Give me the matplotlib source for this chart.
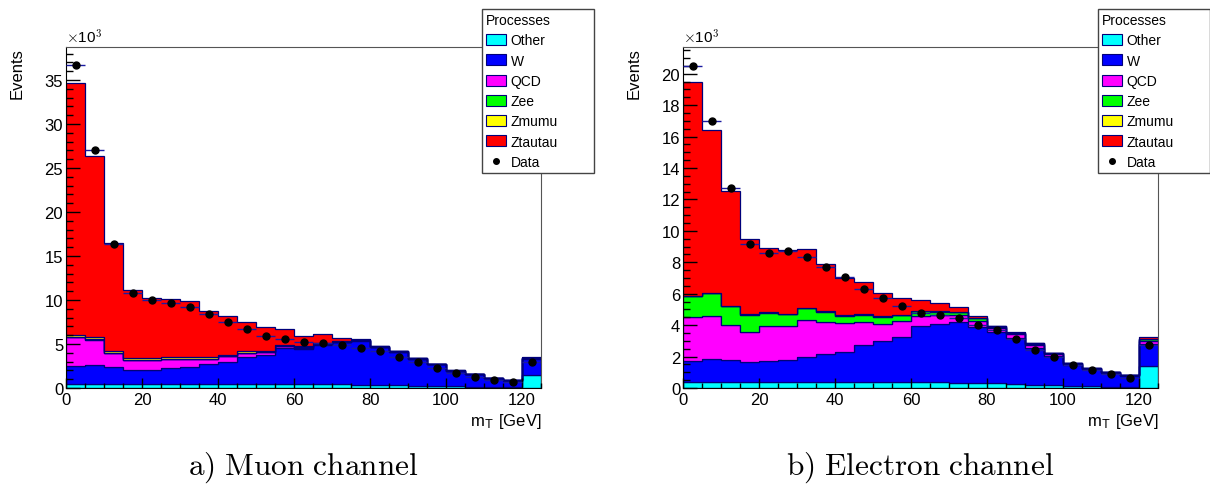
import numpy as np
import matplotlib
matplotlib.use("Agg")
import matplotlib.pyplot as plt
from matplotlib.patches import Patch
from matplotlib.lines import Line2D
from matplotlib.ticker import MultipleLocator

plt.rcParams['font.family'] = ['Liberation Sans', 'DejaVu Sans']
plt.rcParams['mathtext.fontset'] = 'cm'

# bin edges of m_T [GeV], 5 GeV bins
edges = np.arange(0, 130, 5)
centers = edges[:-1] + 2.5

processes = ["Other", "W", "QCD", "Zee", "Zmumu", "Ztautau"]
colors = ["#00ffff", "#0000ff", "#ff00ff", "#00ff00", "#ffff00", "#ff0000"]

# muon channel, events in units of 10^3
mu_other = [0.45, 0.45, 0.45, 0.45, 0.45, 0.45, 0.45, 0.45, 0.45, 0.45, 0.45, 0.45, 0.42,
            0.42, 0.40, 0.38, 0.35, 0.30, 0.25, 0.22, 0.20, 0.15, 0.12, 0.10, 1.50]
mu_w = [2.02, 2.20, 1.95, 1.65, 1.65, 1.78, 1.90, 2.25, 2.50, 3.05, 3.35, 4.10, 3.98,
        4.48, 4.80, 4.97, 4.30, 3.82, 3.08, 2.48, 1.77, 1.42, 0.99, 0.75, 1.80]
mu_qcd = [3.29, 2.85, 1.60, 1.10, 1.08, 1.07, 0.95, 0.60, 0.65, 0.48, 0.30, 0.18, 0.20,
          0.07, 0.05, 0.05, 0.02, 0.02, 0.02, 0.01, 0.01, 0.01, 0.01, 0.01, 0.10]
mu_zee = [0.03, 0.03, 0.03, 0.03, 0.03, 0.03, 0.03, 0.03, 0.03, 0.03, 0.03, 0.03, 0.03,
          0.03, 0.02, 0.02, 0.01, 0.01, 0.01, 0.01, 0.0, 0.0, 0.0, 0.0, 0.01]
mu_zmumu = [0.22, 0.22, 0.20, 0.15, 0.15, 0.15, 0.15, 0.15, 0.15, 0.15, 0.12, 0.12, 0.12,
            0.10, 0.08, 0.06, 0.04, 0.03, 0.02, 0.02, 0.01, 0.01, 0.01, 0.01, 0.03]
mu_ztautau = [28.6, 20.65, 12.27, 7.72, 6.84, 6.62, 6.37, 5.27, 4.37, 3.34, 2.68, 1.79, 1.20,
              1.00, 0.35, 0.09, 0.03, 0.02, 0.01, 0.01, 0.01, 0.01, 0.01, 0.0, 0.06]
mu_data = [36.7, 27.0, 16.4, 10.8, 10.0, 9.7, 9.2, 8.4, 7.45, 6.7, 5.95, 5.57, 5.27,
           5.1, 4.93, 4.58, 4.17, 3.56, 2.95, 2.27, 1.67, 1.2, 0.9, 0.68, 3.0]

# electron channel, events in units of 10^3
el_other = [0.40, 0.40, 0.40, 0.38, 0.38, 0.38, 0.38, 0.38, 0.38, 0.38, 0.38, 0.38, 0.38,
            0.36, 0.34, 0.32, 0.30, 0.25, 0.20, 0.17, 0.14, 0.11, 0.08, 0.06, 1.42]
el_w = [1.30, 1.47, 1.36, 1.28, 1.34, 1.38, 1.57, 1.77, 1.89, 2.36, 2.62, 2.89, 3.55,
        3.72, 3.88, 3.55, 3.29, 2.93, 2.35, 1.86, 1.31, 1.07, 0.87, 0.71, 1.38]
el_qcd = [2.80, 2.73, 2.27, 1.93, 2.21, 2.21, 2.40, 2.03, 1.87, 1.44, 1.05, 0.98, 0.67,
          0.59, 0.45, 0.42, 0.23, 0.26, 0.21, 0.12, 0.08, 0.06, 0.05, 0.04, 0.21]
el_zee = [1.34, 1.43, 1.17, 1.08, 0.87, 0.72, 0.72, 0.68, 0.46, 0.49, 0.49, 0.38, 0.28,
          0.19, 0.15, 0.15, 0.08, 0.06, 0.06, 0.05, 0.04, 0.02, 0.01, 0.01, 0.09]
el_zmumu = [0.02] * 25
el_ztautau = [13.64, 10.35, 7.33, 4.81, 4.12, 4.09, 3.76, 3.0, 2.41, 2.04, 1.49, 1.10, 0.70,
              0.53, 0.30, 0.11, 0.05, 0.03, 0.01, 0.01, 0.0, 0.0, 0.0, 0.0, 0.15]
el_data = [20.5, 17.0, 12.7, 9.17, 8.6, 8.73, 8.32, 7.7, 7.05, 6.3, 5.71, 5.2, 4.8,
           4.67, 4.48, 4.01, 3.69, 3.12, 2.44, 1.97, 1.46, 1.15, 0.91, 0.64, 2.76]

W, H = 1210, 485
fig = plt.figure(figsize=(W / 100, H / 100), dpi=100)

edge_col = "#00007a"


def draw_panel(ax_left, stack, data, ymax, ymaj, ymin, caption, leg_x):
    ax = fig.add_axes([ax_left / W, 96 / H, 475 / W, 341 / H])
    bottom = np.zeros(len(edges) - 1)
    for vals, c in zip(stack, colors):
        top = bottom + np.array(vals)
        ax.stairs(top, edges, baseline=bottom, fill=True, color=c, lw=0)
        ax.stairs(top, edges, baseline=bottom, fill=False, color=edge_col, lw=0.9)
        bottom = top
    data = np.array(data)
    ax.errorbar(centers, data, xerr=2.5, yerr=np.sqrt(data * 1000) / 1000,
                fmt="o", color="black", ms=5, ecolor="#1a1aa0", elinewidth=1,
                capsize=0, zorder=5)
    ax.set_xlim(0, 125)
    ax.set_ylim(0, ymax)
    ax.xaxis.set_major_locator(MultipleLocator(20))
    ax.xaxis.set_minor_locator(MultipleLocator(5))
    ax.yaxis.set_major_locator(MultipleLocator(ymaj))
    ax.yaxis.set_minor_locator(MultipleLocator(ymin))
    ax.tick_params(which="both", direction="in", top=False, right=False,
                   labelsize=12, width=1, color="black")
    ax.tick_params(axis="y", which="major", length=10, pad=2)
    ax.tick_params(axis="y", which="minor", length=5)
    ax.tick_params(axis="x", which="major", length=7, pad=3)
    ax.tick_params(axis="x", which="minor", length=3.5)
    ax.set_axisbelow(False)
    for s in ["top", "right"]:
        ax.spines[s].set_color("#555555")
    for s in ["left", "bottom"]:
        ax.spines[s].set_color("black")
    ax.set_xlabel(r"m$_{\mathsf{T}}$ [GeV]", fontsize=12, loc="right")
    ax.xaxis.set_label_coords(1.0, -0.068)
    ax.set_ylabel("Events", fontsize=12, loc="top")
    ax.yaxis.set_label_coords(-0.088, 1.0)
    ax.text(0.0, 1.003, r"$\times$10$^{3}$", transform=ax.transAxes,
            ha="left", va="bottom", fontsize=11)
    handles = [Patch(facecolor=c, edgecolor=edge_col, lw=0.8) for c in colors]
    handles.append(Line2D([], [], ls="none", marker="o", color="black", ms=4))
    leg = ax.legend(handles, processes + ["Data"], title="Processes",
                    alignment="left", loc="upper left",
                    bbox_to_anchor=(leg_x / W, 1 - 181 / H, 112 / W, 171 / H),
                    bbox_transform=fig.transFigure, mode="expand",
                    borderaxespad=0, fontsize=10, title_fontsize=10,
                    handlelength=1.45, handleheight=0.85, handletextpad=0.3,
                    labelspacing=0.45, borderpad=0.3, fancybox=False,
                    framealpha=1, edgecolor="#444444")
    leg.get_frame().set_linewidth(1)
    fig.text((ax_left + 237.5) / W, 1 - 468 / H, caption,
             ha="center", va="center", fontsize=22.5)
    return ax


draw_panel(66, [mu_other, mu_w, mu_qcd, mu_zee, mu_zmumu, mu_ztautau], mu_data,
           38.75, 5, 1, r"$\mathrm{a)\ Muon\ channel}$", 482)
draw_panel(683, [el_other, el_w, el_qcd, el_zee, el_zmumu, el_ztautau], el_data,
           21.7, 2, 0.5, r"$\mathrm{b)\ Electron\ channel}$", 1098)

fig.savefig("out.png", dpi=100)
